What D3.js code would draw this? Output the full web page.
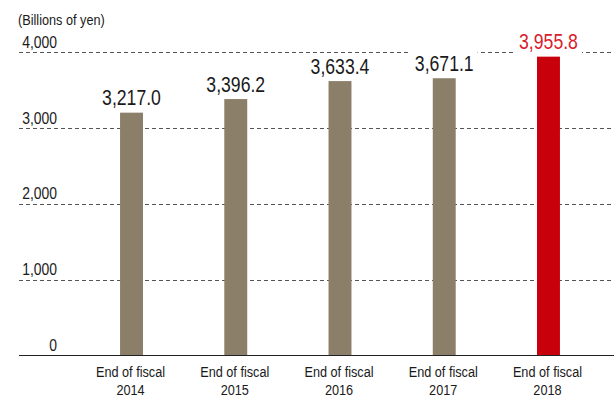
<!DOCTYPE html>
<html><head><meta charset="utf-8">
<script src="https://cdn.jsdelivr.net/npm/d3@7/dist/d3.min.js"></script>
<style>
body{margin:0;background:#fff;}
text{font-family:"Liberation Sans",Arial,sans-serif;fill:#1a1a1a;}
</style></head><body>
<svg id="c" width="614" height="399"></svg>
<script>
const categories = ["2014","2015","2016","2017","2018"];
const values = [3217.0, 3396.2, 3633.4, 3671.1, 3955.8];
const valueLabels = ["3,217.0","3,396.2","3,633.4","3,671.1","3,955.8"];
const tickValues = [0,1000,2000,3000,4000];
const tickLabels = ["0","1,000","2,000","3,000","4,000"];
const unitLabel = "(Billions of yen)";
const catPrefix = "End of fiscal";
const SX = 0.82; // horizontal condensing to mimic a narrow face

const svg = d3.select("#c");
const y = d3.scaleLinear().domain([0,4000]).range([355.5,52.3]);
const x = d3.scaleBand().domain(categories).range([79.4,600.6]).paddingInner(0.78).paddingOuter(0.39);

function place(sel, fx, fy){
  return sel.attr("transform",(d,i)=>`translate(${fx(d,i)},${fy(d,i)}) scale(${SX},1)`);
}

// gridlines
svg.append("g").selectAll("line").data(tickValues.filter(d=>d>0)).join("line")
  .attr("x1",19).attr("x2",614)
  .attr("y1",d=>Math.round(y(d))+0.5).attr("y2",d=>Math.round(y(d))+0.5)
  .attr("stroke","#555").attr("stroke-width",1).attr("stroke-dasharray","4,3");

// tick labels
place(svg.append("g").selectAll("text").data(tickValues).join("text"),
  ()=>57, d=>y(d)-4.5)
  .attr("text-anchor","end").style("font-size","17px").text((d,i)=>tickLabels[i]);

place(svg.append("text").datum(0), ()=>18, ()=>25).style("font-size","15.5px").text(unitLabel);

// bars
svg.append("g").selectAll("rect").data(values).join("rect")
  .attr("x",(d,i)=>x(categories[i]))
  .attr("width",x.bandwidth())
  .attr("y",d=>y(d)+1)
  .attr("height",d=>y(0)-y(d)-1)
  .attr("fill",(d,i)=>i===values.length-1?"#c8000b":"#8c7f69");

// axis line
svg.append("line").attr("x1",19).attr("x2",614).attr("y1",355.5).attr("y2",355.5)
  .attr("stroke","#222").attr("stroke-width",1);

// value labels with white background
const vl = svg.append("g").selectAll("g").data(values).join("g");
vl.each(function(d,i){
  const g = d3.select(this);
  const cx = x(categories[i]) + x.bandwidth()/2;
  const ty = y(d)-6.5;
  const t = g.append("text").attr("transform",`translate(${cx},${ty}) scale(${SX},1)`).attr("text-anchor","middle")
    .style("font-size","21.5px").style("fill", i===values.length-1?"#d7202c":"#1a1a1a")
    .text(valueLabels[i]);
  const bb = t.node().getBBox();
  g.insert("rect","text").attr("x",cx+bb.x*SX-4).attr("y",ty+bb.y).attr("width",bb.width*SX+8).attr("height",bb.height).attr("fill","#fff");
});

// category labels
const cg = svg.append("g").selectAll("g").data(categories).join("g")
  .attr("transform",d=>`translate(${x(d)+x.bandwidth()/2-1},0) scale(${SX},1)`);
cg.append("text").attr("y",377).attr("text-anchor","middle").style("font-size","15.5px").text(catPrefix);
cg.append("text").attr("y",395).attr("text-anchor","middle").style("font-size","15.5px").text(d=>d);
</script>
</body></html>
